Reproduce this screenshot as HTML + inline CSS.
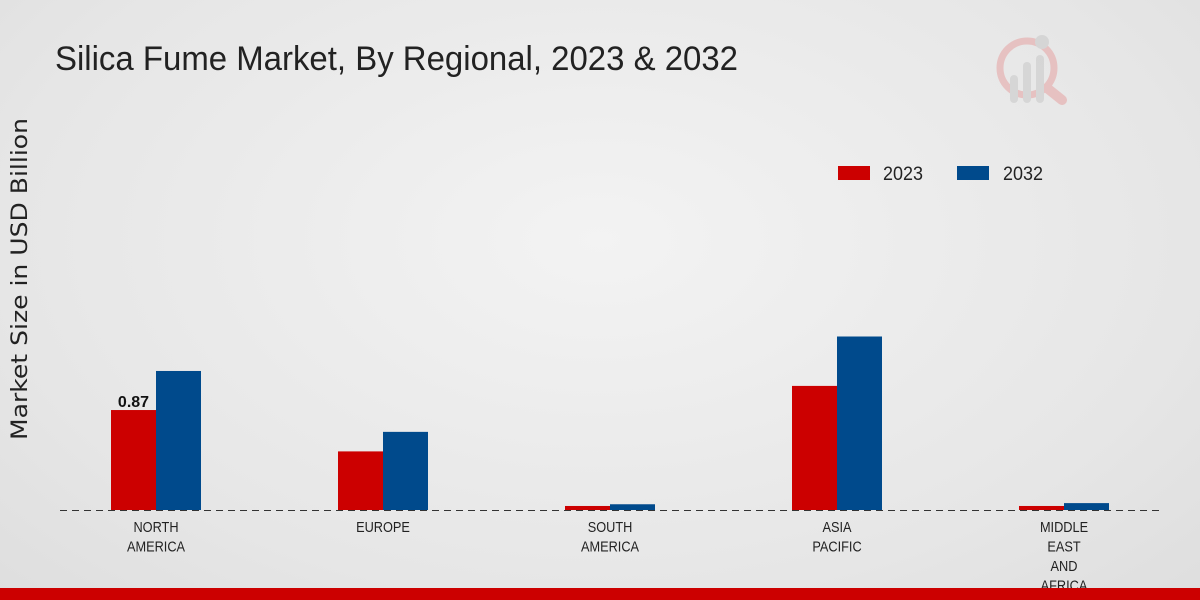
<!DOCTYPE html>
<html><head><meta charset="utf-8"><style>
body{margin:0;width:1200px;height:600px;overflow:hidden;font-family:"Liberation Sans",sans-serif}
#bg{position:absolute;left:0;top:0;width:1200px;height:600px;background:radial-gradient(ellipse at 50% 40%,#f3f3f3 0%,#e6e6e6 70%,#dedede 100%)}
</style></head><body>
<div id="bg"></div>
<svg id="c" width="1200" height="600" style="position:absolute;left:0;top:0">
<text x="55" y="70" font-size="34" fill="#222" textLength="683" lengthAdjust="spacingAndGlyphs">Silica Fume Market, By Regional, 2023 &amp; 2032</text>
<text transform="translate(27,279) rotate(-90)" text-anchor="middle" font-size="22" fill="#222" textLength="322" lengthAdjust="spacingAndGlyphs" font-family="DejaVu Sans, sans-serif">Market Size in USD Billion</text>
<g opacity="0.55">
<circle cx="1027" cy="68" r="27" fill="none" stroke="#e6a3a3" stroke-width="7"/>
<line x1="1047" y1="88" x2="1062" y2="100" stroke="#e6a3a3" stroke-width="10" stroke-linecap="round"/>
<rect x="1010" y="75" width="8" height="28" rx="4" fill="#c8c8c8"/>
<rect x="1023" y="62" width="8" height="41" rx="4" fill="#c8c8c8"/>
<rect x="1036" y="55" width="8" height="48" rx="4" fill="#c8c8c8"/>
<circle cx="1042" cy="42" r="7" fill="#c8c8c8"/>
</g>
<g>
<rect x="838" y="166" width="32" height="14" fill="#cc0000"/>
<text x="883" y="180" font-size="19" fill="#222" textLength="40" lengthAdjust="spacingAndGlyphs">2023</text>
<rect x="957" y="166" width="32" height="14" fill="#004a8c"/>
<text x="1003" y="180" font-size="19" fill="#222" textLength="40" lengthAdjust="spacingAndGlyphs">2032</text>
</g>
<line x1="60" y1="510.5" x2="1160" y2="510.5" stroke="#333" stroke-dasharray="7,5"/>
<g id="bars"></g>
<rect x="0" y="588" width="1200" height="12" fill="#cc0000"/>
</svg>
<script>
const categories=[["NORTH","AMERICA"],["EUROPE"],["SOUTH","AMERICA"],["ASIA","PACIFIC"],["MIDDLE","EAST","AND","AFRICA"]];
const values2023=[0.87,0.51,0.035,1.08,0.035];
const values2032=[1.21,0.68,0.05,1.51,0.06];
const ns="http://www.w3.org/2000/svg";
const g=document.getElementById('bars');
const base=510,scale=114.9,x0=156,step=227,bw=45;
function y(v){return base-v*scale;}
function mk(t,a,p){const e=document.createElementNS(ns,t);for(const k in a)e.setAttribute(k,a[k]);(p||g).appendChild(e);return e;}
categories.forEach((cat,i)=>{
  const cx=x0+i*step;
  const r=mk('rect',{x:cx-bw,y:y(values2023[i]),width:bw,height:base-y(values2023[i]),fill:'#cc0000'});
  
  
  const b=mk('rect',{x:cx,y:y(values2032[i]),width:bw,height:base-y(values2032[i]),fill:'#004a8c'});
  
  
  const tg=mk('g',{transform:'translate('+cx+',0) scale(0.85,1)'});
  
  
  cat.forEach((line,j)=>{
    const t=mk('text',{x:0,y:532+j*19.5,'text-anchor':'middle','font-size':15,fill:'#222'},tg);
    t.textContent=line;
    
    
  });
});
const lbl=mk('text',{x:x0-bw/2,y:y(values2023[0])-3,'text-anchor':'middle','font-size':16,'font-weight':'bold',fill:'#111'});
lbl.textContent=values2023[0].toFixed(2);


</script>
</body></html>
